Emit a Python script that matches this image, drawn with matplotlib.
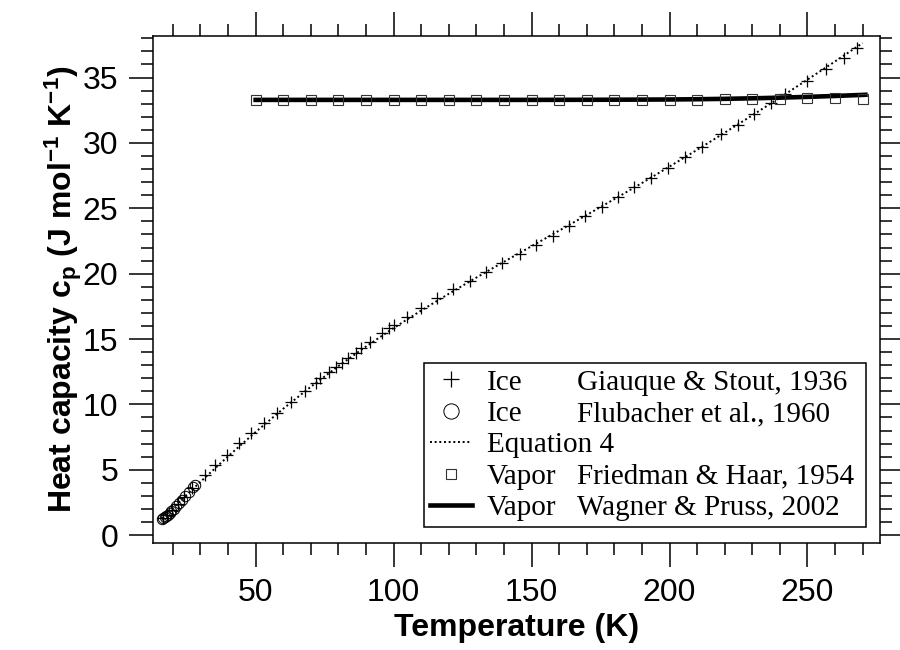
import matplotlib
matplotlib.use("Agg")
import matplotlib.pyplot as plt
from matplotlib.ticker import MultipleLocator
from matplotlib.transforms import ScaledTranslation

plt.rcParams["font.family"] = ["Liberation Sans", "DejaVu Sans"]
plt.rcParams["mathtext.fontset"] = "custom"
plt.rcParams["mathtext.rm"] = "Liberation Sans:bold"
plt.rcParams["mathtext.bf"] = "Liberation Sans:bold"
plt.rcParams["mathtext.default"] = "bf"

# Ice, Giauque & Stout (1936)
gs_temp = [16.4, 17.9, 19.6, 21.7, 24.2, 27.0, 31.5, 35.4, 39.5, 43.8, 48.3,
           52.9, 57.7, 62.7, 67.9, 71.7, 73.2, 76.6, 79.2, 81.2, 83.5, 86.5,
           88.1, 91.6, 95.9, 98.4, 100.2, 104.9, 110.1, 115.6, 121.6, 127.6,
           133.6, 139.3, 145.7, 151.7, 157.7, 163.7, 169.4, 175.4, 181.4,
           187.2, 193.2, 199.4, 205.7, 211.8, 218.7, 224.7, 230.5, 236.7,
           241.8, 249.7, 256.6, 263.3, 268.1]
gs_cp = [1.28, 1.55, 1.90, 2.38, 2.93, 3.60, 4.59, 5.36, 6.12, 7.02, 7.83,
         8.55, 9.31, 10.20, 11.02, 11.65, 11.99, 12.45, 12.83, 13.14, 13.52,
         13.95, 14.28, 14.79, 15.48, 15.86, 16.07, 16.70, 17.35, 18.11, 18.80,
         19.46, 20.10, 20.79, 21.48, 22.19, 22.90, 23.64, 24.41, 25.12, 25.84,
         26.60, 27.34, 28.10, 28.94, 29.71, 30.66, 31.37, 32.19, 33.08,
         33.72, 34.71, 35.68, 36.52, 37.24]

# Ice, Flubacher et al. (1960)
fl_temp = [16.2, 16.6, 17.1, 17.6, 18.2, 18.8, 19.5, 20.3, 21.2, 22.2, 23.3,
           24.5, 25.8, 27.2, 28.0]
fl_cp = [1.22, 1.30, 1.38, 1.47, 1.58, 1.70, 1.85, 2.02, 2.22, 2.45, 2.70,
         2.99, 3.30, 3.65, 3.83]

# Equation 4 curve
eq_temp = [16, 20, 25, 30, 40, 50, 60, 70, 80, 90, 100, 110, 120, 130, 140,
           150, 160, 170, 180, 190, 200, 210, 220, 230, 240, 250, 260, 270]
eq_cp = [1.26, 2.07, 3.08, 4.08, 6.03, 7.89, 9.67, 11.35, 12.93, 14.43, 15.84,
         17.18, 18.46, 19.70, 20.91, 22.10, 23.29, 24.49, 25.70, 26.93, 28.19,
         29.47, 30.78, 32.11, 33.46, 34.84, 36.23, 37.64]

# Vapor, Friedman & Haar (1954)
fh_temp = [50, 60, 70, 80, 90, 100, 110, 120, 130, 140, 150, 160, 170, 180,
           190, 200, 210, 220, 230, 240, 250, 260, 270]
fh_cp = [33.30, 33.30, 33.30, 33.30, 33.30, 33.30, 33.30, 33.30, 33.30, 33.30,
         33.30, 33.30, 33.30, 33.30, 33.30, 33.30, 33.31, 33.32, 33.34, 33.37,
         33.40, 33.42, 33.36]

# Vapor, Wagner & Pruss (2002)
wp_temp = [50, 100, 150, 175, 200, 210, 220, 230, 240, 250, 260, 271]
wp_cp = [33.29, 33.29, 33.29, 33.30, 33.32, 33.34, 33.37, 33.41, 33.46, 33.52,
         33.59, 33.68]

legend_phase = ["Ice", "Ice", "Equation 4", "Vapor", "Vapor"]
legend_refs = ["Giauque & Stout, 1936", "Flubacher et al., 1960", "",
               "Friedman & Haar, 1954", "Wagner & Pruss, 2002"]

fig = plt.figure(figsize=(9, 6.5), dpi=100)
ax = fig.add_axes([0.1697, 0.1646, 0.8081, 0.7805])

h_gs, = ax.plot(gs_temp, gs_cp, ls="none", marker="+", ms=8, mew=0.9,
                color="black", zorder=4)
h_fl, = ax.plot(fl_temp, fl_cp, ls="none", marker="o", ms=7.5, mew=0.7,
                mfc="none", mec="black", zorder=4)
h_eq, = ax.plot(eq_temp, eq_cp, ls=(0, (1.0, 1.4)), lw=1.4, color="black",
                zorder=3)
h_fh, = ax.plot(fh_temp, fh_cp, ls="none", marker="s", ms=6.5, mew=0.8,
                mfc="none", mec="#333333", zorder=4)
h_wp, = ax.plot(wp_temp, wp_cp, ls="-", lw=3.3, color="black", zorder=3)

ax.set_xlim(12.7, 276.3)
ax.set_ylim(-0.6, 38.2)
ax.xaxis.set_major_locator(MultipleLocator(50))
ax.xaxis.set_minor_locator(MultipleLocator(10))
ax.yaxis.set_major_locator(MultipleLocator(5))
ax.yaxis.set_minor_locator(MultipleLocator(1))

for s in ax.spines.values():
    s.set_linewidth(1.1)
ax.tick_params(which="both", direction="out", top=True, right=True,
               labeltop=False, labelright=False, width=1.1, color="black")
ax.tick_params(which="major", length=17, pad=8, labelsize=23)
ax.tick_params(which="minor", length=8.6)

ax.set_xlabel("Temperature (K)", fontsize=23, fontweight="bold", labelpad=4)
ax.set_ylabel(r"Heat capacity c$_\mathbf{p}$ (J mol$^\mathbf{-1}$ K$^\mathbf{-1}$)",
              fontsize=23, fontweight="bold", labelpad=-1)

leg_font = {"family": "Liberation Serif", "size": 21}
leg = ax.legend([h_gs, h_fl, h_eq, h_fh, h_wp], legend_phase,
                loc="lower left", bbox_to_anchor=(0.373, 0.0315, 0.6077, 0.32),
                mode="expand", borderaxespad=0, frameon=True, fancybox=False,
                edgecolor="black", framealpha=1, prop=leg_font,
                handlelength=1.45, handletextpad=0.5, labelspacing=0.17,
                borderpad=0.2)
leg.get_frame().set_linewidth(1.1)
for h, ms in zip(leg.legend_handles, [12, 11, 0, 7.5, 0]):
    if ms:
        h.set_markersize(ms)

# second legend column (source), 90 px right of the phase word
fig.canvas.draw()
shift = ScaledTranslation(0.9, 0, fig.dpi_scale_trans)
for ref, txt in zip(legend_refs, leg.get_texts()):
    if ref:
        fig.text(*txt.get_position(), ref, transform=txt.get_transform() + shift,
                 ha=txt.get_ha(), va=txt.get_va(), fontproperties=leg_font)

fig.savefig("out.png", dpi=100)
